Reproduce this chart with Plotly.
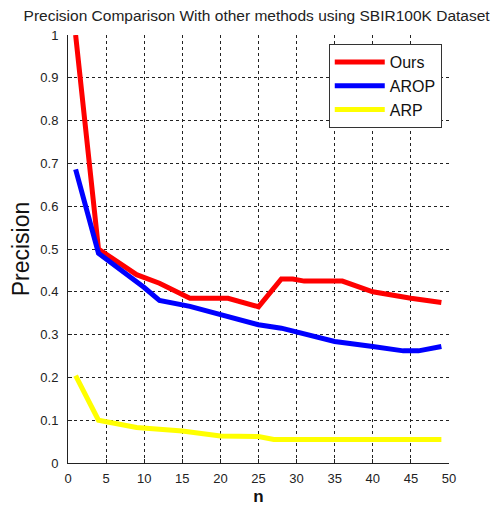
import plotly.graph_objects as go

ours_x = [1, 4, 9, 12, 16, 21, 25, 28, 29.5, 31, 36, 40, 45, 49]
ours_y = [1.0, 0.5, 0.44, 0.42, 0.385, 0.385, 0.365, 0.43, 0.43, 0.425, 0.425, 0.40, 0.385, 0.375]

arop_x = [1, 4, 10, 12, 16, 20, 25, 28, 35, 40, 44, 46, 49]
arop_y = [0.686, 0.49, 0.41, 0.38, 0.366, 0.347, 0.323, 0.315, 0.284, 0.272, 0.262, 0.262, 0.272]

arp_x = [1, 4, 9, 12, 15, 20, 25, 27, 49]
arp_y = [0.204, 0.10, 0.083, 0.08, 0.075, 0.063, 0.062, 0.055, 0.055]

x_ticks = [0, 5, 10, 15, 20, 25, 30, 35, 40, 45, 50]
y_ticks = [0, 0.1, 0.2, 0.3, 0.4, 0.5, 0.6, 0.7, 0.8, 0.9, 1]
y_tick_labels = ["0", "0.1", "0.2", "0.3", "0.4", "0.5", "0.6", "0.7", "0.8", "0.9", "1"]

fig = go.Figure()
fig.add_trace(go.Scatter(x=ours_x, y=ours_y, mode="lines", name="Ours",
                         line=dict(color="#ff0000", width=5)))
fig.add_trace(go.Scatter(x=arop_x, y=arop_y, mode="lines", name="AROP",
                         line=dict(color="#0000ff", width=5)))
fig.add_trace(go.Scatter(x=arp_x, y=arp_y, mode="lines", name="ARP",
                         line=dict(color="#ffff00", width=5)))

font_family = "Liberation Sans, Arial, sans-serif"

# page body has an 8px margin, so the figure is drawn at (8, 8)
W, H = 491, 498

fig.update_layout(
    width=W, height=H,
    margin=dict(l=60, r=50, t=27, b=43, autoexpand=False),
    paper_bgcolor="white", plot_bgcolor="white",
    font=dict(family=font_family, color="#222222", size=13),
    title=dict(text="Precision Comparison With other methods using SBIR100K Dataset",
               x=0.495, xref="paper", y=1 - 8 / H, yanchor="middle",
               font=dict(size=15.5, color="#222222"), automargin=False),
    legend=dict(x=0.981, y=0.979, xanchor="right", yanchor="top",
                bgcolor="white", bordercolor="#333333", borderwidth=1,
                font=dict(size=16, color="#111111"),
                itemwidth=50, tracegroupgap=0),
    showlegend=True,
)

fig.update_xaxes(
    range=[0, 50], tickvals=x_ticks, ticktext=[str(v) for v in x_ticks],
    showgrid=True, gridcolor="#222222", griddash="3px,3px", gridwidth=1,
    showline=True, linecolor="#222222", linewidth=1,
    ticks="inside", ticklen=4, tickcolor="#222222",
    zeroline=False, automargin=False, ticklabelstandoff=3,
    title=dict(text="<b>n</b>", font=dict(size=17, color="#111111"), standoff=6),
    tickfont=dict(size=13),
)
fig.update_yaxes(
    range=[0, 1], tickvals=y_ticks, ticktext=y_tick_labels,
    showgrid=True, gridcolor="#222222", griddash="3px,3px", gridwidth=1,
    showline=True, linecolor="#222222", linewidth=1,
    ticks="inside", ticklen=4, tickcolor="#222222",
    zeroline=False, automargin=False, ticklabelstandoff=6,
    title=dict(text="Precision", font=dict(size=23, color="#111111"), standoff=10),
    tickfont=dict(size=13),
)

fig.write_html("out.html")
